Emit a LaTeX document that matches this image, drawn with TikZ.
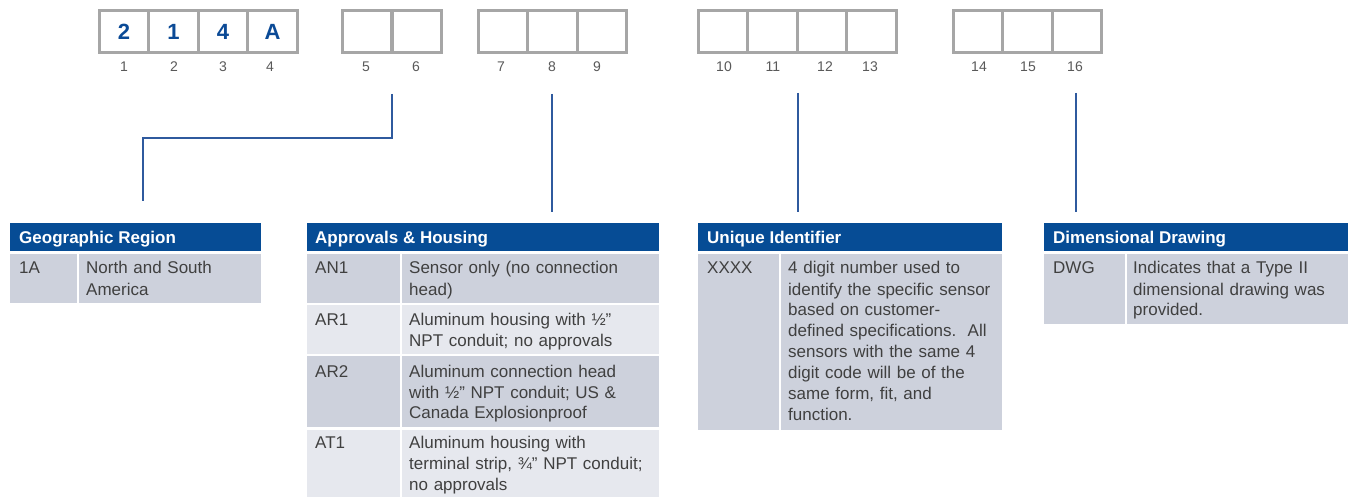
\documentclass[tikz,border=0pt]{standalone}
\usepackage{fontspec}
\setmainfont{Liberation Sans}
\definecolor{hdrblue}{HTML}{064C95}
\definecolor{digblue}{HTML}{0B4A96}
\definecolor{lnblue}{HTML}{2F5A9E}
\definecolor{boxgray}{HTML}{A6A6A6}
\definecolor{numgray}{HTML}{595959}
\definecolor{txtgray}{HTML}{404040}
\definecolor{rowdark}{HTML}{CDD1DC}
\definecolor{rowlight}{HTML}{E6E8EE}
\begin{document}
\begin{tikzpicture}[x=1pt,y=-1pt,
  digbox/.style={draw=boxgray, line width=2.6pt, minimum width=49.5pt, minimum height=42pt, inner sep=0pt,
     font=\fontsize{22}{22}\selectfont\bfseries, text=digblue},
  numlbl/.style={anchor=base, font=\fontsize{14}{14}\selectfont, text=numgray, inner sep=0pt},
  hdr/.style={anchor=base west, font=\fontsize{17}{21}\selectfont\bfseries, text=white, inner sep=0pt},
  code/.style={anchor=base west, font=\fontsize{17}{21}\selectfont, text=txtgray, inner sep=0pt},
  desc/.style={anchor=base west, font=\fontsize{17}{21}\selectfont, text=txtgray, inner sep=0pt, text width=250pt, align=left},
  conn/.style={draw=lnblue, line width=1.5pt}
]
\useasboundingbox (0,0) rectangle (1353,497);
\fill[white] (0,0) rectangle (1353,497);

% ---- digit boxes ----
\node[digbox] (b1) at (124,31.5) {2};
\node[digbox] (b2) at (173.5,31.5) {1};
\node[digbox] (b3) at (223,31.5) {4};
\node[digbox] (b4) at (272.5,31.5) {A};
\node[digbox] (b5) at (367,31.5) {};
\node[digbox] (b6) at (417,31.5) {};
\node[digbox] (b7) at (503,31.5) {};
\node[digbox] (b8) at (552.5,31.5) {};
\node[digbox] (b9) at (602,31.5) {};
\node[digbox] (b10) at (723,31.5) {};
\node[digbox] (b11) at (772.5,31.5) {};
\node[digbox] (b12) at (822,31.5) {};
\node[digbox] (b13) at (871.5,31.5) {};
\node[digbox] (b14) at (978,31.5) {};
\node[digbox] (b15) at (1027.5,31.5) {};
\node[digbox] (b16) at (1077,31.5) {};

% ---- position numbers ----
\node[numlbl] (n1) at (124,72) {1};
\node[numlbl] (n2) at (174,72) {2};
\node[numlbl] (n3) at (223,72) {3};
\node[numlbl] (n4) at (270,72) {4};
\node[numlbl] (n5) at (366,72) {5};
\node[numlbl] (n6) at (416,72) {6};
\node[numlbl] (n7) at (501,72) {7};
\node[numlbl] (n8) at (552,72) {8};
\node[numlbl] (n9) at (597,72) {9};
\node[numlbl] (n10) at (724,72) {10};
\node[numlbl] (n11) at (773,72) {11};
\node[numlbl] (n12) at (825,72) {12};
\node[numlbl] (n13) at (870,72) {13};
\node[numlbl] (n14) at (979,72) {14};
\node[numlbl] (n15) at (1028,72) {15};
\node[numlbl] (n16) at (1075,72) {16};

% ---- connectors ----
\coordinate (c1a) at (392,94);
\coordinate (c1b) at (143,201);
\coordinate (c2a) at (552,94);
\coordinate (c2b) at (552,212);
\coordinate (c3a) at (798,93);
\coordinate (c3b) at (798,212);
\coordinate (c4a) at (1076,93);
\coordinate (c4b) at (1076,212);
\draw[conn] (c1a) -- (c1a |- 0,138) -| (c1b);
\draw[conn] (c2a) -- (c2b);
\draw[conn] (c3a) -- (c3b);
\draw[conn] (c4a) -- (c4b);

% ---- table 1: Geographic Region ----
\fill[hdrblue] (10,223) rectangle (261,251);
\fill[rowdark] (10,254) rectangle (76.5,303);
\fill[rowdark] (78.5,254) rectangle (261,303);
\node[hdr] (t1h) at (19,244) {Geographic Region};
\node[code] (t1c1) at (19,274) {1A};
\node[desc] (t1d1) at (86,274) {North and South\\America};

% ---- table 2: Approvals & Housing ----
\fill[hdrblue] (307,223) rectangle (659,251);
\fill[rowdark] (307,254) rectangle (399.5,303);
\fill[rowdark] (401.5,254) rectangle (659,303);
\fill[rowlight] (307,305) rectangle (399.5,353.5);
\fill[rowlight] (401.5,305) rectangle (659,353.5);
\fill[rowdark] (307,356) rectangle (399.5,427);
\fill[rowdark] (401.5,356) rectangle (659,427);
\fill[rowlight] (307,429.5) rectangle (399.5,497);
\fill[rowlight] (401.5,429.5) rectangle (659,497);
\node[hdr] (t2h) at (315,244) {Approvals \& Housing};
\node[code] (t2c1) at (315,274) {AN1};
\node[desc] (t2d1) at (409,274) {Sensor only (no connection\\head)};
\node[code] (t2c2) at (315,325) {AR1};
\node[desc] (t2d2) at (409,325) {Aluminum housing with ½”\\NPT conduit; no approvals};
\node[code] (t2c3) at (315,377) {AR2};
\node[desc] (t2d3) at (409,377) {Aluminum connection head\\with ½” NPT conduit; US \&\\Canada Explosionproof};
\node[code] (t2c4) at (315,448) {AT1};
\node[desc] (t2d4) at (409,448) {Aluminum housing with\\terminal strip, ¾” NPT conduit;\\no approvals};

% ---- table 3: Unique Identifier ----
\fill[hdrblue] (698,223) rectangle (1002,251);
\fill[rowdark] (698,254) rectangle (778.5,430);
\fill[rowdark] (780.5,254) rectangle (1002,430);
\node[hdr] (t3h) at (707,244) {Unique Identifier};
\node[code] (t3c1) at (707,274) {XXXX};
\node[desc] (t3d1) at (788,274) {4 digit number used to\\identify the specific sensor\\based on customer-\\defined specifications.\ \ All\\sensors with the same 4\\digit code will be of the\\same form, fit, and\\function.};

% ---- table 4: Dimensional Drawing ----
\fill[hdrblue] (1044,223) rectangle (1348,251);
\fill[rowdark] (1044,254) rectangle (1124.5,324);
\fill[rowdark] (1126.5,254) rectangle (1348,324);
\node[hdr] (t4h) at (1053,244) {Dimensional Drawing};
\node[code] (t4c1) at (1053,274) {DWG};
\node[desc] (t4d1) at (1133,274) {Indicates that a Type II\\dimensional drawing was\\provided.};
\end{tikzpicture}
\end{document}
